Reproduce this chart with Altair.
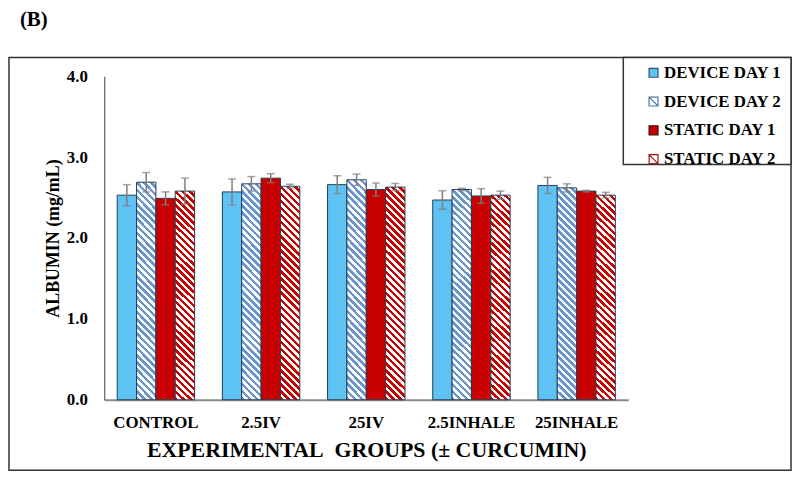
import altair as alt
import pandas as pd

groups = ["CONTROL", "2.5IV", "25IV", "2.5INHALE", "25INHALE"]
series = ["DEVICE DAY 1", "DEVICE DAY 2", "STATIC DAY 1", "STATIC DAY 2"]

device_day1 = [2.53, 2.57, 2.66, 2.47, 2.65]
device_day1_err = [0.13, 0.16, 0.11, 0.115, 0.10]
device_day2 = [2.69, 2.67, 2.72, 2.60, 2.62]
device_day2_err = [0.12, 0.09, 0.07, 0.015, 0.05]
static_day1 = [2.49, 2.74, 2.60, 2.52, 2.58]
static_day1_err = [0.08, 0.055, 0.08, 0.09, 0.01]
static_day2 = [2.58, 2.64, 2.63, 2.53, 2.53]
static_day2_err = [0.16, 0.025, 0.045, 0.05, 0.035]

y_ticks = [0, 1, 2, 3, 4]

values = [device_day1, device_day2, static_day1, static_day2]
errors = [device_day1_err, device_day2_err, static_day1_err, static_day2_err]

rows = []
for s, vals, errs in zip(series, values, errors):
    for g, v, e in zip(groups, vals, errs):
        rows.append({"group": g, "series": s, "value": v, "lo": v - e, "hi": v + e})
df = pd.DataFrame(rows)

FONT = "Liberation Serif"
BLUE = "#5ec3f3"
HATCH_BLUE = "#6a96cf"
RED = "#c80000"
EDGE = "#263c52"


def hatch(color, n=33, r=0.0907):
    k = (r + 1) / (r * r + 1)
    stops = []
    for i in range(n):
        a = round(i / n, 5)
        b = round((i + 0.5) / n, 5)
        c = round((i + 1) / n, 5)
        stops += [
            {"offset": a, "color": color},
            {"offset": b, "color": color},
            {"offset": b, "color": "white"},
            {"offset": c, "color": "white"},
        ]
    return {"gradient": "linear", "x1": 0, "y1": 1,
            "x2": round(k * r, 5), "y2": round(1 - k, 5), "stops": stops}


fills = [BLUE, hatch(HATCH_BLUE), RED, hatch(RED)]

x_enc = alt.X(
    "group:N", sort=groups,
    scale=alt.Scale(domain=groups, paddingInner=0.264, paddingOuter=0.123),
    axis=alt.Axis(title="EXPERIMENTAL\u00a0\u00a0GROUPS (± CURCUMIN)", labelAngle=0,
                  ticks=False, labelPadding=15, titlePadding=9,
                  domainColor="#8a8a8a", domainWidth=2,
                  titleFontSize=22),
)
xo_enc = alt.XOffset("series:N", sort=series,
                     scale=alt.Scale(domain=series, paddingInner=0, paddingOuter=0))
y_scale = alt.Scale(domain=[0, 4], nice=False)
y_axis = alt.Axis(title="ALBUMIN (mg/mL)", values=y_ticks, format=".1f", grid=False,
                  ticks=False, labelPadding=17, titlePadding=4,
                  domainColor="#404040", domainWidth=1, titleFontSize=18)

layers = []
for s, f in zip(series, fills):
    layers.append(
        alt.Chart(df).transform_filter(alt.datum.series == s)
        .mark_bar(fill=f, stroke=EDGE, strokeWidth=1)
        .encode(x=x_enc, xOffset=xo_enc,
                y=alt.Y("value:Q", scale=y_scale, axis=y_axis))
    )

err_rule = alt.Chart(df).mark_rule(color="#7f7f7f", strokeWidth=1.5).encode(
    x=x_enc, xOffset=xo_enc,
    y=alt.Y("lo:Q", scale=y_scale, axis=y_axis), y2="hi:Q")
cap_lo = alt.Chart(df).mark_tick(color="#7f7f7f", thickness=1.5, size=8).encode(
    x=x_enc, xOffset=xo_enc, y=alt.Y("lo:Q", scale=y_scale, axis=y_axis))
cap_hi = alt.Chart(df).mark_tick(color="#7f7f7f", thickness=1.5, size=8).encode(
    x=x_enc, xOffset=xo_enc, y=alt.Y("hi:Q", scale=y_scale, axis=y_axis))

legend_fill = [BLUE, "white", RED, "white"]
legend_stroke = ["#2f4f6f", "#4f78a8", "#4a0a0a", "#a01818"]
square = "M-1,-1H1V1H-1Z"
diag = "M-1,-1H1V1H-1Z M-1,-1L1,1"
legend_shape = [square, diag, square, diag]

leg = alt.Legend(title=None, orient="none", legendX=523, legendY=-20,
                 padding=8, rowPadding=11, symbolOffset=14, labelOffset=2,
                 symbolSize=81, symbolStrokeWidth=1.2, symbolOpacity=1,
                 labelFont=FONT, labelFontSize=17, labelFontWeight="bold",
                 labelColor="black")

legend_layer = alt.Chart(df).transform_filter("false").mark_point(
    filled=True, size=81, strokeWidth=1.2, opacity=1).encode(
    fill=alt.Fill("series:N", sort=series,
                  scale=alt.Scale(domain=series, range=legend_fill), legend=leg),
    stroke=alt.Stroke("series:N", sort=series,
                      scale=alt.Scale(domain=series, range=legend_stroke), legend=leg),
    shape=alt.Shape("series:N", sort=series,
                    scale=alt.Scale(domain=series, range=legend_shape), legend=leg),
)

frame = alt.Chart(pd.DataFrame({"a": [0]})).mark_rect(
    fillOpacity=0, stroke="#333333", strokeWidth=1.5).encode(
    x=alt.value(-96), x2=alt.value(692), y=alt.value(-19), y2=alt.value(397))

legend_box = alt.Chart(pd.DataFrame({"a": [0]})).mark_rect(
    fill="white", stroke="#333333", strokeWidth=1.5).encode(
    x=alt.value(523), x2=alt.value(692), y=alt.value(-19), y2=alt.value(89))

chart = alt.layer(frame, legend_box, *layers, err_rule, cap_lo, cap_hi,
                  legend_layer).properties(
    width=528, height=326,
    title=alt.Title("(B)", anchor="start", frame="group", dx=-85, offset=27,
                    font=FONT, fontSize=21, fontWeight="bold", color="black"),
    autosize=alt.AutoSizeParams(type="none"),
    padding={"left": 97, "top": 67, "right": 165, "bottom": 72},
).configure(background="white").configure_view(stroke=None).configure_axis(
    labelFont=FONT, labelFontSize=17, labelFontWeight="bold", labelColor="black",
    titleFont=FONT, titleFontWeight="bold", titleColor="black",
)

chart.save("out.html", embed_options={"renderer": "svg", "actions": False})
